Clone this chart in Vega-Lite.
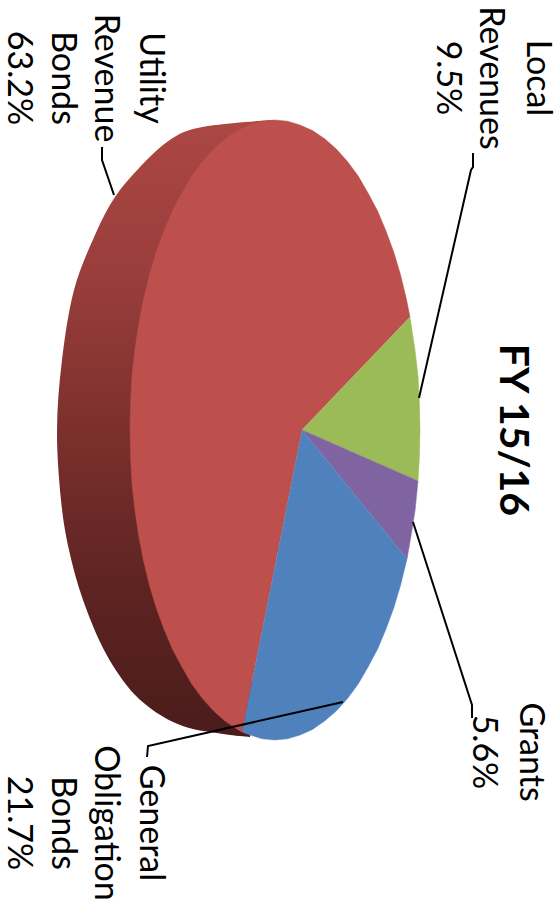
{"$schema":"https://vega.github.io/schema/vega-lite/v6.json","width":560,"height":904,"autosize":{"type":"fit","contains":"padding"},"padding":0,"background":"white","config":{"view":{"stroke":null}},
"datasets":{
"side":[{"i":1,"x":273,"y":120},{"i":2,"x":235,"y":123},{"i":3,"x":193,"y":129},{"i":4,"x":167,"y":142},{"i":5,"x":140,"y":167},{"i":6,"x":115,"y":197},{"i":7,"x":95,"y":235},{"i":8,"x":74,"y":290},{"i":9,"x":62,"y":360},{"i":10,"x":57,"y":430},{"i":11,"x":61,"y":500},{"i":12,"x":69,"y":550},{"i":13,"x":83,"y":600},{"i":14,"x":104,"y":650},{"i":15,"x":128,"y":687},{"i":16,"x":150,"y":708},{"i":17,"x":173,"y":722},{"i":18,"x":193,"y":729},{"i":19,"x":210,"y":732},{"i":20,"x":230,"y":735},{"i":21,"x":250,"y":737}],
"slices":[
{"s":"Utility Revenue Bonds","i":0,"x":302,"y":430},{"s":"Utility Revenue Bonds","i":103,"x":242,"y":732},{"s":"Utility Revenue Bonds","i":105,"x":237.5,"y":729.4},{"s":"Utility Revenue Bonds","i":110,"x":225,"y":721},{"s":"Utility Revenue Bonds","i":115,"x":213.7,"y":711},{"s":"Utility Revenue Bonds","i":120,"x":202.5,"y":698.5},{"s":"Utility Revenue Bonds","i":125,"x":191.8,"y":684},{"s":"Utility Revenue Bonds","i":130,"x":182,"y":667},{"s":"Utility Revenue Bonds","i":135,"x":172.5,"y":649.2},{"s":"Utility Revenue Bonds","i":140,"x":164,"y":629},{"s":"Utility Revenue Bonds","i":145,"x":156.2,"y":607.8},{"s":"Utility Revenue Bonds","i":150,"x":149.4,"y":585},{"s":"Utility Revenue Bonds","i":155,"x":143.6,"y":561},{"s":"Utility Revenue Bonds","i":160,"x":138.7,"y":536},{"s":"Utility Revenue Bonds","i":165,"x":134.9,"y":510.2},{"s":"Utility Revenue Bonds","i":170,"x":132,"y":484},{"s":"Utility Revenue Bonds","i":175,"x":130.6,"y":457},{"s":"Utility Revenue Bonds","i":180,"x":130,"y":430},{"s":"Utility Revenue Bonds","i":185,"x":130.6,"y":403},{"s":"Utility Revenue Bonds","i":190,"x":132,"y":376},{"s":"Utility Revenue Bonds","i":195,"x":134.9,"y":349.8},{"s":"Utility Revenue Bonds","i":200,"x":138.7,"y":324},{"s":"Utility Revenue Bonds","i":205,"x":143.6,"y":299},{"s":"Utility Revenue Bonds","i":210,"x":149.4,"y":275},{"s":"Utility Revenue Bonds","i":215,"x":156.2,"y":252.2},{"s":"Utility Revenue Bonds","i":220,"x":164,"y":231},{"s":"Utility Revenue Bonds","i":225,"x":172.5,"y":210.8},{"s":"Utility Revenue Bonds","i":230,"x":182,"y":193},{"s":"Utility Revenue Bonds","i":235,"x":191.8,"y":176},{"s":"Utility Revenue Bonds","i":240,"x":202.5,"y":161.5},{"s":"Utility Revenue Bonds","i":245,"x":213.7,"y":149},{"s":"Utility Revenue Bonds","i":250,"x":225,"y":139},{"s":"Utility Revenue Bonds","i":255,"x":237.5,"y":130.6},{"s":"Utility Revenue Bonds","i":260,"x":250,"y":125},{"s":"Utility Revenue Bonds","i":265,"x":262.4,"y":121.2},{"s":"Utility Revenue Bonds","i":270,"x":275,"y":120},{"s":"Utility Revenue Bonds","i":275,"x":287.6,"y":121.2},{"s":"Utility Revenue Bonds","i":280,"x":300,"y":125},{"s":"Utility Revenue Bonds","i":285,"x":312.5,"y":130.6},{"s":"Utility Revenue Bonds","i":290,"x":325,"y":139},{"s":"Utility Revenue Bonds","i":295,"x":336.3,"y":149},{"s":"Utility Revenue Bonds","i":300,"x":347.5,"y":161.5},{"s":"Utility Revenue Bonds","i":305,"x":358.2,"y":176},{"s":"Utility Revenue Bonds","i":310,"x":368,"y":193},{"s":"Utility Revenue Bonds","i":315,"x":377.5,"y":210.8},{"s":"Utility Revenue Bonds","i":320,"x":386,"y":231},{"s":"Utility Revenue Bonds","i":325,"x":393.8,"y":252.2},{"s":"Utility Revenue Bonds","i":330,"x":400.6,"y":275},{"s":"Utility Revenue Bonds","i":335,"x":406.4,"y":299},{"s":"Utility Revenue Bonds","i":339,"x":410,"y":317},
{"s":"Local Revenues","i":0,"x":302,"y":430},{"s":"Local Revenues","i":1,"x":410,"y":317},{"s":"Local Revenues","i":2,"x":415,"y":350},{"s":"Local Revenues","i":3,"x":418,"y":376},{"s":"Local Revenues","i":4,"x":419.4,"y":403},{"s":"Local Revenues","i":5,"x":420,"y":430},{"s":"Local Revenues","i":6,"x":419.4,"y":457},{"s":"Local Revenues","i":7,"x":418,"y":481},
{"s":"Grants","i":0,"x":302,"y":430},{"s":"Grants","i":1,"x":418,"y":481},{"s":"Grants","i":2,"x":415.1,"y":510.2},{"s":"Grants","i":3,"x":411,"y":536},{"s":"Grants","i":4,"x":407,"y":559},
{"s":"General Obligation Bonds","i":0,"x":302,"y":430},{"s":"General Obligation Bonds","i":25,"x":407,"y":559},{"s":"General Obligation Bonds","i":30,"x":400.6,"y":585},{"s":"General Obligation Bonds","i":35,"x":393.8,"y":607.8},{"s":"General Obligation Bonds","i":40,"x":386,"y":629},{"s":"General Obligation Bonds","i":45,"x":377.5,"y":649.2},{"s":"General Obligation Bonds","i":50,"x":368,"y":667},{"s":"General Obligation Bonds","i":55,"x":358.2,"y":684},{"s":"General Obligation Bonds","i":60,"x":347.5,"y":698.5},{"s":"General Obligation Bonds","i":65,"x":336.3,"y":711},{"s":"General Obligation Bonds","i":70,"x":324.6,"y":721},{"s":"General Obligation Bonds","i":75,"x":312.5,"y":729.4},{"s":"General Obligation Bonds","i":80,"x":300,"y":735},{"s":"General Obligation Bonds","i":85,"x":287.6,"y":738.8},{"s":"General Obligation Bonds","i":90,"x":275,"y":740},{"s":"General Obligation Bonds","i":95,"x":262.4,"y":738.8},{"s":"General Obligation Bonds","i":100,"x":250,"y":735},{"s":"General Obligation Bonds","i":103,"x":242,"y":732}],
"leaders":[
{"l":"Local","i":1,"x":419,"y":398},{"l":"Local","i":2,"x":471,"y":170},{"l":"Local","i":3,"x":473,"y":167},{"l":"Local","i":4,"x":473,"y":153},
{"l":"Grants","i":1,"x":413,"y":522},{"l":"Grants","i":2,"x":472,"y":705},{"l":"Grants","i":3,"x":472,"y":718},
{"l":"General","i":1,"x":343,"y":702},{"l":"General","i":2,"x":148,"y":746},{"l":"General","i":3,"x":147,"y":757},
{"l":"Utility","i":1,"x":114,"y":195},{"l":"Utility","i":2,"x":102,"y":160},{"l":"Utility","i":3,"x":102,"y":147}],
"labels":[
{"t":"Local","x":537,"y":78},{"t":"Revenues","x":490,"y":78},{"t":"9.5%","x":447,"y":78},
{"t":"Utility","x":150,"y":78},{"t":"Revenue","x":105,"y":78},{"t":"Bonds","x":62,"y":78},{"t":"63.2%","x":18,"y":78},
{"t":"Grants","x":530,"y":752},{"t":"5.6%","x":483,"y":752},
{"t":"General","x":150,"y":823},{"t":"Obligation","x":105,"y":823},{"t":"Bonds","x":62,"y":823},{"t":"21.7%","x":18,"y":823}],
"title":[{"t":"FY 15/16","x":512,"y":430}]
},
"encoding":{
"x":{"field":"x","type":"quantitative","scale":{"domain":[0,560],"nice":false,"zero":false},"axis":null},
"y":{"field":"y","type":"quantitative","scale":{"domain":[904,0],"nice":false,"zero":false},"axis":null}
},
"layer":[
{"data":{"name":"side"},"mark":{"type":"line","interpolate":"cardinal","strokeWidth":0,"fill":{"gradient":"linear","x1":0,"y1":0,"x2":0,"y2":1,"stops":[{"offset":0,"color":"#ac4744"},{"offset":0.25,"color":"#993e3b"},{"offset":0.5,"color":"#7c302d"},{"offset":0.75,"color":"#5e2422"},{"offset":1,"color":"#4a1c1b"}]}},"encoding":{"order":{"field":"i","type":"quantitative"}}},
{"data":{"name":"slices"},"mark":{"type":"line","strokeWidth":0.5},"encoding":{"order":{"field":"i","type":"quantitative"},
"fill":{"field":"s","type":"nominal","legend":null,"scale":{"domain":["Utility Revenue Bonds","Local Revenues","Grants","General Obligation Bonds"],"range":["#bd504d","#9bbb59","#8064a2","#4f81bd"]}},
"stroke":{"field":"s","type":"nominal","legend":null,"scale":{"domain":["Utility Revenue Bonds","Local Revenues","Grants","General Obligation Bonds"],"range":["#bd504d","#9bbb59","#8064a2","#4f81bd"]}}}},
{"data":{"name":"leaders"},"mark":{"type":"line","color":"black","strokeWidth":2},"encoding":{"detail":{"field":"l"},"order":{"field":"i","type":"quantitative"}}},
{"data":{"name":"labels"},"mark":{"type":"text","angle":90,"align":"center","baseline":"middle","font":"Lato","fontSize":34,"color":"black"},"encoding":{"text":{"field":"t"}}},
{"data":{"name":"title"},"mark":{"type":"text","angle":90,"align":"center","baseline":"middle","font":"Lato","fontSize":41,"fontWeight":"bold","color":"black"},"encoding":{"text":{"field":"t"}}}
]}
